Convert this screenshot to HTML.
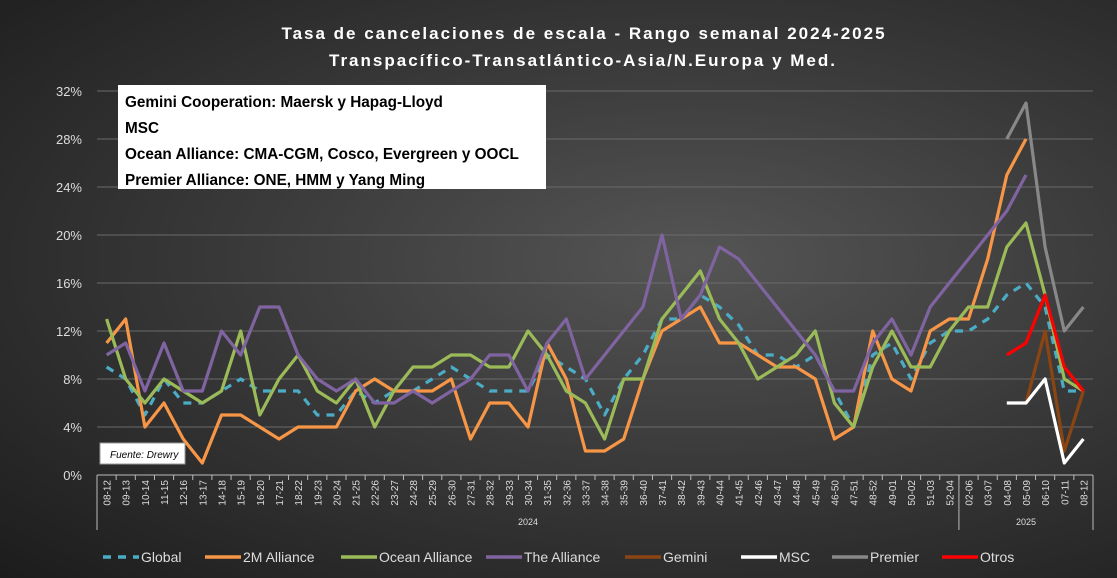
<!DOCTYPE html>
<html><head><meta charset="utf-8"><style>
html,body{margin:0;padding:0}
body{width:1117px;height:578px;overflow:hidden;background:radial-gradient(ellipse at 62% 45%,#555 0%,#3a3a3a 45%,#1c1c1c 100%);font-family:"Liberation Sans",sans-serif}
svg{position:absolute;left:0;top:0}
</style></head><body>
<svg id="s" width="1117" height="578" xmlns="http://www.w3.org/2000/svg"></svg>
<script>
const L=97,R=1093,T=91,B=475,N=52,cw=(R-L)/N;
const X=i=>L+cw*(i+0.5), Y=v=>B-v*12;
const labels="08-12 09-13 10-14 11-15 12-16 13-17 14-18 15-19 16-20 17-21 18-22 19-23 20-24 21-25 22-26 23-27 24-28 25-29 26-30 27-31 28-32 29-33 30-34 31-35 32-36 33-37 34-38 35-39 36-40 37-41 38-42 39-43 40-44 41-45 42-46 43-47 44-48 45-49 46-50 47-51 48-52 49-01 50-02 51-03 52-04 02-06 03-07 04-08 05-09 06-10 07-11 08-12".split(" ");
let h='';
h+='<text x="584" y="39" fill="#fff" font-size="17" font-weight="bold" text-anchor="middle" letter-spacing="2">Tasa de cancelaciones de escala - Rango semanal 2024-2025</text>';
h+='<text x="583" y="66" fill="#fff" font-size="17" font-weight="bold" text-anchor="middle" letter-spacing="2">Transpacífico-Transatlántico-Asia/N.Europa y Med.</text>';
for(let k=0;k<=8;k++){const y=Y(k*4);
 if(k>0)h+=`<line x1="${L}" x2="${R}" y1="${y}" y2="${y}" stroke="#6a6a6a" stroke-width="1"/>`;
 h+=`<text x="82" y="${y+5}" fill="#ddd" font-size="13" text-anchor="end">${k*4}%</text>`;}
h+=`<line x1="${L}" x2="${R}" y1="${B}" y2="${B}" stroke="#bbb"/>`;
for(let i=0;i<=N;i++){const x=L+cw*i;h+=`<line x1="${x}" x2="${x}" y1="${B}" y2="${B+5}" stroke="#bbb"/>`;}
[L,L+cw*45,R].forEach(x=>h+=`<line x1="${x}" x2="${x}" y1="${B}" y2="530" stroke="#bbb"/>`);
labels.forEach((t,i)=>h+=`<text transform="translate(${X(i)+4},${B+5}) rotate(-90)" fill="#ddd" font-size="10" text-anchor="end">${t}</text>`);
h+=`<text x="528" y="525" fill="#ddd" font-size="9" text-anchor="middle">2024</text>`;
h+=`<text x="1026" y="525" fill="#ddd" font-size="9" text-anchor="middle">2025</text>`;
const S=[
["#4bacc6",[9,8,5,8,6,6,7,8,7,7,7,5,5,7,6,7,7,8,9,8,7,7,7,10,9,8,5,8,10,13,13,15,14,12.5,10,10,9,10,7,4,10,11,8,11,12,12,13,15,16,14,7,7],0,"8,7"],
["#f79646",[11,13,4,6,3,1,5,5,4,3,4,4,4,7,8,7,7,7,8,3,6,6,4,11,8,2,2,3,8,12,13,14,11,11,10,9,9,8,3,4,12,8,7,12,13,13,18,25,28],0],
["#9bbb59",[13,8,6,8,7,6,7,12,5,8,10,7,6,8,4,7,9,9,10,10,9,9,12,10,7,6,3,8,8,13,15,17,13,11,8,9,10,12,6,4,9,12,9,9,12,14,14,19,21,15,8,7],0],
["#8064a2",[10,11,7,11,7,7,12,10,14,14,10,8,7,8,6,6,7,6,7,8,10,10,7,11,13,8,10,12,14,20,13,15,19,18,16,14,12,10,7,7,11,13,10,14,16,18,20,22,25],0],
["#8b4513",[6,12,2,7],48],
["#ffffff",[6,6,8,1,3],47],
["#888888",[28,31,19,12,14],47],
["#ff0000",[10,11,15,9,7],47]];
S.forEach(([c,d,o,da])=>{const p=d.map((v,j)=>X(o+j).toFixed(1)+','+Y(v).toFixed(1)).join(' ');
 h+=`<polyline points="${p}" fill="none" stroke="${c}" stroke-width="3.2" stroke-linejoin="round" ${da?`stroke-dasharray="${da}"`:''}/>`;});
h+='<rect x="118" y="85" width="428" height="104" fill="#fff"/>';
["Gemini Cooperation: Maersk y Hapag-Lloyd","MSC","Ocean Alliance: CMA-CGM, Cosco, Evergreen y OOCL","Premier Alliance: ONE, HMM y Yang Ming"].forEach((t,i)=>h+=`<text x="125" y="${107+i*26}" font-size="15.3" font-weight="bold" fill="#000">${t}</text>`);
h+='<rect x="100" y="443" width="85" height="21" fill="#fff" stroke="#999"/><text x="110" y="458" font-size="10" font-style="italic" fill="#000">Fuente: Drewry</text>';
const lg=[["Global","#4bacc6",103,1],["2M Alliance","#f79646",205],["Ocean Alliance","#9bbb59",341],["The Alliance","#8064a2",486],["Gemini","#8b4513",625],["MSC","#ffffff",741],["Premier","#888888",832],["Otros","#ff0000",942]];
lg.forEach(([t,c,x,d])=>{h+=`<line x1="${x}" x2="${x+36}" y1="557" y2="557" stroke="${c}" stroke-width="3.5" ${d?'stroke-dasharray="8,7"':''}/>`;
 h+=`<text x="${x+38}" y="562" fill="#ddd" font-size="14">${t}</text>`;});
document.getElementById('s').innerHTML=h;
</script>
</body></html>
